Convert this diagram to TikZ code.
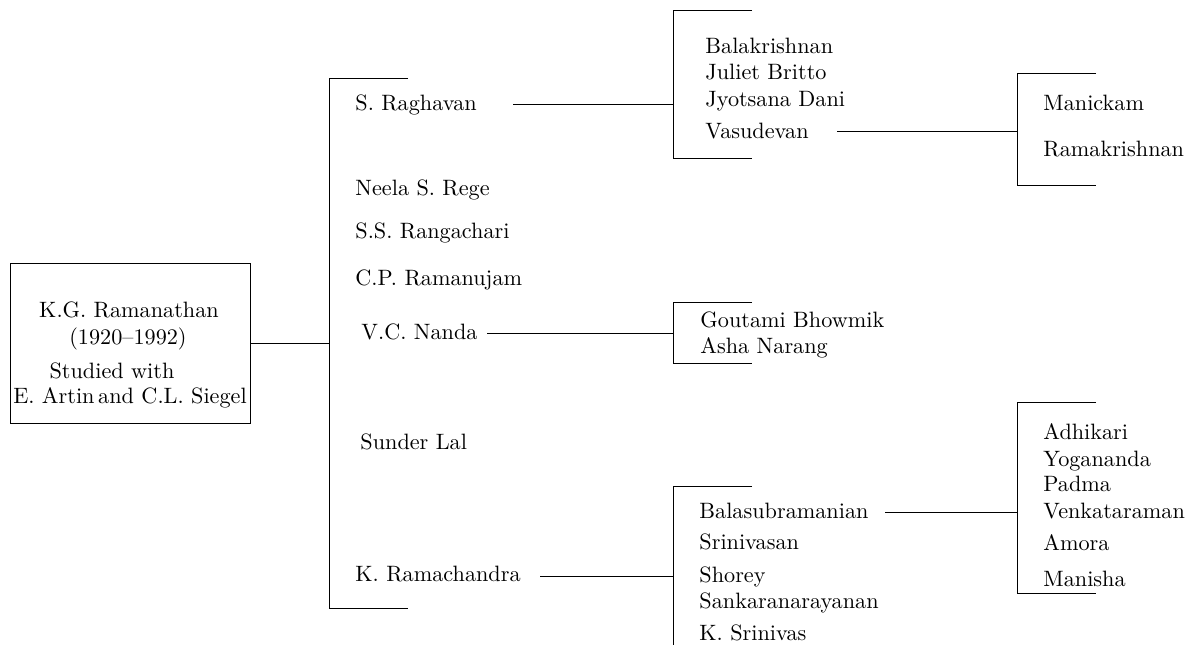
\documentclass[tikz,border=0pt]{standalone}
\begin{document}
\begin{tikzpicture}[x=0.45pt,y=-0.45pt,line width=0.4pt,
  lbl/.style={anchor=base west,inner sep=0pt},
  ctr/.style={anchor=base,inner sep=0pt},
  rootbox/.style={draw,minimum width=108pt,minimum height=72pt,inner sep=0pt}]
\useasboundingbox (0,0) rectangle (1190,645);
% root
\node[rootbox] (root) at (130,343) {};
\node[ctr] (rt1) at (129,318) {K.G. Ramanathan};
\node[ctr] (rt2) at (128,345) {(1920--1992)};
\node[ctr] (rt3) at (112,379) {Studied with};
\node[ctr] (rt4) at (130,404) {E. Artin\,and C.L. Siegel};
% main bracket
\coordinate (m1) at (329,343);
\draw (root.east) -- (m1);
\draw (408,78) -- (329,78) -- (329,608) -- (408,608);
% first level
\node[lbl] (ragh) at (355,111) {S. Raghavan};
\node[lbl] (rege) at (355,196) {Neela S. Rege};
\node[lbl] (rang) at (355,239) {S.S. Rangachari};
\node[lbl] (ramj) at (355,286) {C.P. Ramanujam};
\node[lbl] (nand) at (361,340) {V.C. Nanda};
\node[lbl] (sund) at (360,450) {Sunder Lal};
\node[lbl] (ramc) at (355,582) {K. Ramachandra};
% Raghavan
\coordinate (raghs) at (513,104);
\coordinate (raghb) at (673,104);
\draw (raghs) -- (raghb);
\draw (752,10) -- (673,10) -- (673,158) -- (752,158);
\node[lbl] (bala) at (705,54) {Balakrishnan};
\node[lbl] (juli) at (705,80) {Juliet Britto};
\node[lbl] (jyot) at (705,107) {Jyotsana Dani};
\node[lbl] (vasu) at (705,139) {Vasudevan};
% Vasudevan
\coordinate (vasus) at (837,131);
\coordinate (vasub) at (1017,131);
\draw (vasus) -- (vasub);
\draw (1096,73) -- (1017,73) -- (1017,185) -- (1096,185);
\node[lbl] (mani) at (1043,111) {Manickam};
\node[lbl] (ramk) at (1043,157) {Ramakrishnan};
% Nanda
\coordinate (nands) at (487,333);
\coordinate (nandb) at (673,333);
\draw (nands) -- (nandb);
\draw (752,302) -- (673,302) -- (673,363) -- (752,363);
\node[lbl] (gout) at (700,328) {Goutami Bhowmik};
\node[lbl] (asha) at (700,354) {Asha Narang};
% Ramachandra
\coordinate (ramcs) at (540,576);
\coordinate (ramcb) at (673,576);
\draw (ramcs) -- (ramcb);
\draw (752,486) -- (673,486) -- (673,660);
\node[lbl] (basu) at (699,519) {Balasubramanian};
\node[lbl] (srin) at (699,550) {Srinivasan};
\node[lbl] (shor) at (699,583) {Shorey};
\node[lbl] (sank) at (699,609) {Sankaranarayanan};
\node[lbl] (ksri) at (699,641) {K. Srinivas};
% Balasubramanian
\coordinate (basus) at (885,512);
\coordinate (basub) at (1017,512);
\draw (basus) -- (basub);
\draw (1096,402) -- (1017,402) -- (1017,593) -- (1096,593);
\node[lbl] (adhi) at (1043,440) {Adhikari};
\node[lbl] (yoga) at (1043,467) {Yogananda};
\node[lbl] (padm) at (1043,492) {Padma};
\node[lbl] (venk) at (1043,519) {Venkataraman};
\node[lbl] (amor) at (1043,551) {Amora};
\node[lbl] (mans) at (1043,587) {Manisha};
\end{tikzpicture}
\end{document}
